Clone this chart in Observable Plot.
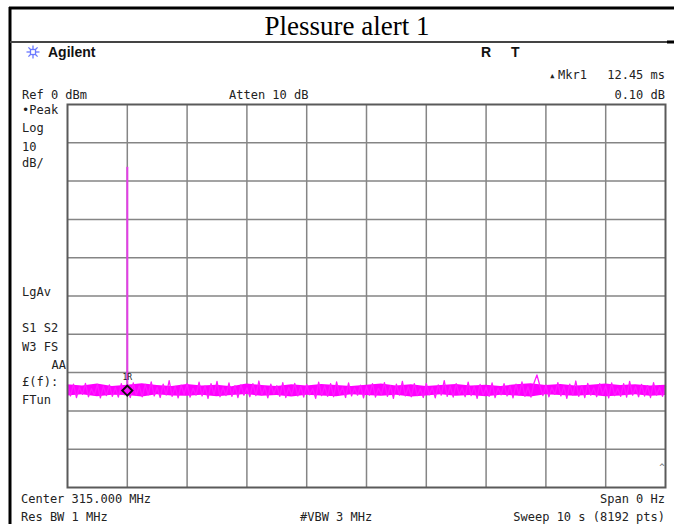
<!DOCTYPE html>
<html>
<head>
<meta charset="utf-8">
<script src="https://cdn.jsdelivr.net/npm/d3@7"></script>
<script src="https://cdn.jsdelivr.net/npm/@observablehq/plot@0.6"></script>
<style>
  html, body { margin: 0; padding: 0; background: #fff; overflow: hidden; }
  #chart { position: relative; width: 674px; height: 524px; overflow: hidden; }
  #chart svg { display: block; }
</style>
</head>
<body>
<div id="chart"></div>
<script>
// ---- data ----
const title = "Plessure alert 1";
const xDivisions = [0, 1, 2, 3, 4, 5, 6, 7, 8, 9, 10];          // seconds (sweep 10 s)
const yDivisions = [0, -10, -20, -30, -40, -50, -60, -70, -80, -90, -100]; // dBm, 10 dB/div
const sampleStep = 0.05; // s between plotted trace samples
const noiseLevels = [
  -73.4,-76.1,-73.0,-76.5,-73.8,-75.7,-72.8,-76.3,-74.2,-75.9,-73.1,-76.6,-73.6,-76.0,-73.2,-76.2,-73.9,-76.4,-72.9,-75.8,
  -74.0,-76.5,-72.7,-75.9,-73.5,-76.3,-73.1,-75.8,-72.4,-76.1,-73.9,-76.5,-73.0,-75.9,-72.1,-76.2,-73.6,-76.6,-73.3,-75.7,
  -72.8,-76.4,-74.1,-75.9,-72.5,-76.1,-73.5,-76.7,-72.9,-75.8,-72.3,-76.3,-73.8,-76.0,-72.7,-76.2,-73.4,-76.5,-73.2,-75.9,
  -74.0,-76.3,-72.9,-76.0,-72.2,-75.8,-73.7,-76.6,-73.0,-75.6,-73.4,-76.2,-72.6,-76.5,-73.9,-75.9,-72.8,-76.1,-73.6,-76.4,
  -73.1,-75.8,-74.2,-76.7,-72.5,-76.0,-73.5,-76.2,-72.9,-76.3,-72.4,-75.7,-73.8,-76.5,-72.7,-76.1,-74.0,-75.9,-73.3,-76.6,
  -73.6,-75.9,-72.9,-76.4,-74.1,-75.7,-72.6,-76.2,-73.4,-76.7,-73.0,-75.9,-72.3,-76.1,-73.7,-76.3,-72.9,-76.0,-74.2,-76.5,
  -72.8,-75.8,-73.9,-76.6,-73.2,-75.9,-72.1,-76.2,-73.5,-76.4,-72.9,-75.7,-74.0,-76.3,-72.5,-76.0,-73.6,-76.7,-73.1,-75.9,
  -73.8,-76.2,-72.7,-76.5,-74.1,-75.8,-72.9,-76.1,-73.4,-76.6,-73.0,-75.9,-72.4,-76.2,-73.7,-76.4,-72.8,-70.6,-73.5,-76.0,
  -73.2,-76.3,-73.9,-75.7,-72.6,-76.1,-73.6,-76.7,-73.0,-75.9,-72.2,-76.2,-73.4,-76.5,-72.8,-75.9,-74.0,-76.3,-72.9,-75.8,
  -73.5,-76.6,-72.7,-76.0,-74.2,-76.2,-72.9,-76.4,-72.3,-75.9,-73.7,-76.3,-73.1,-76.1,-73.4,-76.5,-72.6,-75.9,-73.9,-76.2,
  -73.6
];
const bandTimes = [0,0.25,0.5,0.75,1,1.25,1.5,1.75,2,2.25,2.5,2.75,3,3.25,3.5,3.75,4,4.25,4.5,4.75,5,5.25,5.5,5.75,6,6.25,6.5,6.75,7,7.25,7.5,7.75,8,8.25,8.5,8.75,9,9.25,9.5,9.75,10];
const bandTop = [-73.2,-73.5,-73.0,-73.6,-73.3,-72.9,-73.4,-73.6,-73.1,-73.5,-73.3,-73.7,-73.0,-73.4,-73.6,-73.2,-73.5,-73.1,-73.4,-73.6,-73.3,-73.0,-73.5,-73.2,-73.6,-73.4,-73.1,-73.5,-73.3,-73.6,-73.2,-72.9,-73.4,-73.1,-73.5,-73.3,-73.0,-73.4,-73.2,-73.5,-73.3];
const bandBottom = [-76.1,-75.8,-76.3,-75.9,-76.0,-76.4,-75.8,-76.1,-76.2,-75.9,-76.3,-76.0,-75.7,-76.2,-76.0,-76.4,-75.9,-76.1,-76.3,-75.8,-76.0,-76.2,-75.9,-76.4,-76.1,-75.8,-76.2,-76.0,-76.3,-75.9,-76.1,-76.4,-75.8,-76.0,-76.2,-75.9,-76.3,-76.1,-75.8,-76.2,-76.0];
const peakTime = [1.0];        // s
const peakLevel = [-16.4];     // dBm
const floorLevel = [-74.7];    // dBm
const markerLabel = ["1R"];

// ---- build ----
const trace = noiseLevels.map((v, i) => ({t: i * sampleStep, db: v}));
const band = bandTimes.map((t, i) => ({t, hi: bandTop[i], lo: bandBottom[i]}));
const peaks = peakTime.map((t, i) => ({t, top: peakLevel[i], base: floorLevel[i], label: markerLabel[i]}));

const W = 674, H = 524;
const plot = Plot.plot({
  width: W, height: H,
  marginLeft: 67, marginRight: 9, marginTop: 104, marginBottom: 37,
  x: {domain: [0, 10], axis: null},
  y: {domain: [-100, 0], axis: null},
  style: {background: "transparent"},
  marks: [
    Plot.ruleX(xDivisions.slice(1, -1), {stroke: "#858585", strokeWidth: 1.5}),
    Plot.ruleY(yDivisions.slice(1, -1), {stroke: "#858585", strokeWidth: 1.5}),
    Plot.areaY(band, {x: "t", y1: "lo", y2: "hi", fill: "#ff00ff", curve: "linear"}),
    Plot.line(trace, {x: "t", y: "db", stroke: "#ff1aff", strokeWidth: 1.3, curve: "linear"}),
    Plot.ruleX(peaks, {x: "t", y1: "base", y2: "top", stroke: "#e33de6", strokeWidth: 2}),
    Plot.dot(peaks, {x: "t", y: "base", symbol: "diamond2", r: 4.5, stroke: "#111", strokeWidth: 2, fill: "none"}),
    Plot.text(peaks, {x: "t", y: "base", text: "label", dy: -13, fontSize: 8, fill: "#222", fontFamily: "DejaVu Sans Mono"}),
    Plot.frame({stroke: "#5a5a5a", strokeWidth: 2})
  ]
});
document.getElementById("chart").appendChild(plot);

// ---- annotations (instrument screen text) ----
const svg = d3.select(plot);
const g = svg.append("g");
const mono = "'DejaVu Sans Mono', monospace";

// table borders
g.append("line").attr("x1", 9).attr("x2", 674).attr("y1", 8).attr("y2", 8).attr("stroke", "#000").attr("stroke-width", 3);
g.append("line").attr("x1", 10).attr("x2", 10).attr("y1", 7).attr("y2", 524).attr("stroke", "#000").attr("stroke-width", 3);
g.append("line").attr("x1", 10).attr("x2", 667).attr("y1", 42).attr("y2", 42).attr("stroke", "#444").attr("stroke-width", 2);
g.append("line").attr("x1", 667).attr("x2", 674).attr("y1", 42).attr("y2", 42).attr("stroke", "#000").attr("stroke-width", 3);

g.append("text").attr("x", 347).attr("y", 35).attr("text-anchor", "middle")
  .attr("font-family", "'Liberation Serif', 'Times New Roman', serif").attr("font-size", 27).attr("fill", "#000")
  .text(title);

// Agilent logo starburst
const lg = g.append("g").attr("transform", "translate(33,52)").attr("stroke", "#6a78ff").attr("stroke-width", 1.3);
[0, 45, 90, 135].forEach(a => {
  const r = 6.5, rad = a * Math.PI / 180;
  lg.append("line").attr("x1", -r * Math.cos(rad)).attr("y1", -r * Math.sin(rad))
    .attr("x2", r * Math.cos(rad)).attr("y2", r * Math.sin(rad));
});
lg.append("rect").attr("x", -2.5).attr("y", -2.5).attr("width", 5).attr("height", 5).attr("fill", "#fff");

function t(x, y, s, opts = {}) {
  const e = g.append("text").attr("x", x).attr("y", y)
    .attr("font-family", opts.family || mono)
    .attr("font-size", opts.size || 12)
    .attr("font-weight", opts.weight || "normal")
    .attr("fill", opts.fill || "#222")
    .attr("text-anchor", opts.anchor || "start")
    .text(s);
  return e;
}
const sans = "'Liberation Sans', Arial, sans-serif";
t(48, 57, "Agilent", {family: sans, weight: "bold", size: 14, fill: "#111"});
t(481, 57, "R", {family: sans, weight: "bold", size: 14, fill: "#111"});
t(511, 57, "T", {family: sans, weight: "bold", size: 14, fill: "#111"});
t(549, 79, "▴", {size: 11});
t(558, 79, "Mkr1");
t(665, 79, "12.45 ms", {anchor: "end"});
t(22, 99, "Ref 0 dBm");
t(229, 99, "Atten 10 dB");
t(665, 99, "0.10 dB", {anchor: "end"});

t(22, 114, "•Peak");
t(22, 132, "Log");
t(22, 151, "10");
t(22, 167, "dB/");
t(22, 296, "LgAv");
t(22, 332, "S1 S2");
t(22, 351, "W3 FS");
t(66, 369, "AA", {anchor: "end"});
t(22, 386, "£(f):");
t(22, 404, "FTun");

t(21, 503, "Center 315.000 MHz");
t(665, 503, "Span 0 Hz", {anchor: "end"});
t(21, 521, "Res BW 1 MHz");
t(300, 521, "#VBW 3 MHz");
t(665, 521, "Sweep 10 s (8192 pts)", {anchor: "end"});
t(662, 470, "^", {size: 9, fill: "#666", anchor: "middle"});

// keep the title row open on the right, as in the reference
g.append("rect").attr("x", 668).attr("y", 10).attr("width", 6).attr("height", 30).attr("fill", "#fff");
</script>
</body>
</html>
